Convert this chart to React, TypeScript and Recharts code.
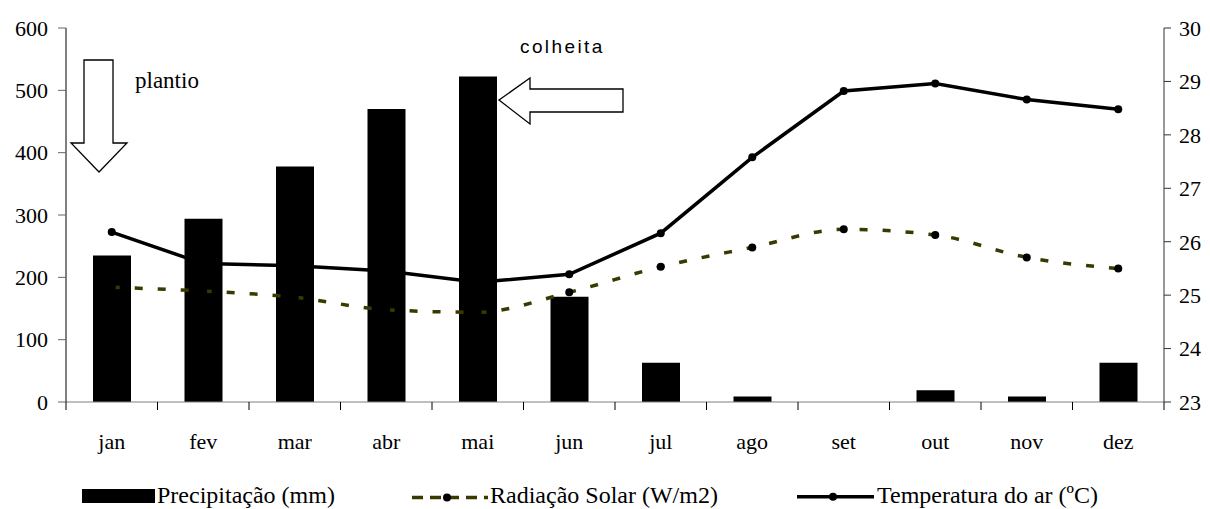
import React from 'react';
import { ComposedChart, Bar, Line, XAxis, YAxis, Legend } from 'recharts';

const months = ['jan', 'fev', 'mar', 'abr', 'mai', 'jun', 'jul', 'ago', 'set', 'out', 'nov', 'dez'];
const precipitacao = [235, 294, 378, 470, 522, 169, 63, 9, 0, 19, 9, 63];
const radiacao = [184, 178, 168, 148, 144, 176, 217, 248, 277, 268, 232, 214];
const temperatura = [26.18, 25.59, 25.55, 25.45, 25.24, 25.39, 26.16, 27.58, 28.82, 28.96, 28.66, 28.48];
const leftTicks = [0, 100, 200, 300, 400, 500, 600];
const rightTicks = [23, 24, 25, 26, 27, 28, 29, 30];
const seriesNames = ['Precipitação (mm)', 'Radiação Solar (W/m2)', 'Temperatura do ar (ºC)'];

const data = months.map((m, i) => ({
  mes: m,
  precipitacao: precipitacao[i],
  radiacao: radiacao[i],
  temperatura: temperatura[i],
}));

const W = 1194;
const H = 501;
const LEFT_W = 58;
const RIGHT_W = 38;
const PLOT_W = W - LEFT_W - RIGHT_W;
const BAND = PLOT_W / months.length;
const SERIF = 'Liberation Serif, Tinos, Times New Roman, DejaVu Serif, serif';
const OLIVE = '#3a3a00';

const X_TICK_SIZE = 8;
const X_TICK_MARGIN = 39;

const serifStyle = { fontFamily: SERIF };

const XTick = (props: any) => {
  const { x, y, payload, index } = props;
  const axisY = y - X_TICK_SIZE - X_TICK_MARGIN;
  const left = x - BAND / 2;
  const right = x + BAND / 2;
  return (
    <g>
      <line x1={left} x2={left} y1={axisY} y2={axisY + X_TICK_SIZE} stroke="#000" strokeWidth={1} />
      {index === months.length - 1 && (
        <line x1={right} x2={right} y1={axisY} y2={axisY + X_TICK_SIZE} stroke="#000" strokeWidth={1} />
      )}
      <text x={x} y={y} textAnchor="middle" style={serifStyle} fontSize={22} fill="#000">
        {payload.value}
      </text>
    </g>
  );
};

const LegendContent = () => (
  <svg width={W} height={30} style={{ display: 'block', overflow: 'visible' }}>
    <rect x={74} y={3} width={73} height={14} fill="#000" />
    <text x={149} y={17} style={serifStyle} fontSize={24} fill="#000">{seriesNames[0]}</text>
    <line x1={404} x2={480} y1={11.5} y2={11.5} stroke={OLIVE} strokeWidth={3.5} strokeDasharray="11 7" />
    <circle cx={439} cy={11.5} r={4} fill="#000" />
    <text x={482} y={17} style={serifStyle} fontSize={24} fill="#000">{seriesNames[1]}</text>
    <line x1={789} x2={866} y1={10.7} y2={10.7} stroke="#000" strokeWidth={3.5} />
    <circle cx={825} cy={10.7} r={4} fill="#000" />
    <text x={869} y={17} style={serifStyle} fontSize={24} fill="#000">{seriesNames[2]}</text>
  </svg>
);

const Annotations = () => (
  <svg
    width={W}
    height={H}
    style={{ position: 'absolute', left: 0, top: 0, pointerEvents: 'none', overflow: 'visible' }}
  >
    <polygon
      points="76,52 105,52 105,135 119,135 91,164 63,135 76,135"
      fill="#fff"
      stroke="#000"
      strokeWidth={1.3}
      strokeLinejoin="miter"
    />
    <text x={127} y={80} style={serifStyle} fontSize={23} fill="#000">plantio</text>
    <polygon
      points="491,92 522,70 522,81 615,81 615,104 522,104 522,116"
      fill="#fff"
      stroke="#000"
      strokeWidth={1.3}
    />
    <text
      x={512}
      y={45}
      style={{ fontFamily: 'Liberation Sans, Arial, sans-serif' }}
      fontSize={19}
      letterSpacing={2.4}
      fill="#000"
    >
      colheita
    </text>
  </svg>
);

export default function App() {
  return (
    <div style={{ position: 'relative', width: W, height: H, background: '#fff', fontFamily: SERIF }}>
      <ComposedChart
        width={W}
        height={H}
        data={data}
        margin={{ top: 20, right: 0, bottom: 47, left: 0 }}
        barSize={38}
        style={serifStyle}
      >
        <XAxis
          dataKey="mes"
          height={60}
          axisLine={{ stroke: '#808080', strokeWidth: 1.2 }}
          tickLine={false}
          tickSize={X_TICK_SIZE}
          tickMargin={X_TICK_MARGIN}
          tick={<XTick />}
          interval={0}
        />
        <YAxis
          yAxisId="left"
          orientation="left"
          width={LEFT_W}
          domain={[0, 600]}
          ticks={leftTicks}
          axisLine={{ stroke: '#000', strokeWidth: 1 }}
          tickLine={{ stroke: '#666', strokeWidth: 1 }}
          tickSize={8}
          tickMargin={10}
          tick={{ style: serifStyle, fontSize: 22, fill: '#000' }}
          interval={0}
        />
        <YAxis
          yAxisId="right"
          orientation="right"
          width={RIGHT_W}
          domain={[23, 30]}
          ticks={rightTicks}
          axisLine={{ stroke: '#333', strokeWidth: 1 }}
          tickLine={{ stroke: '#333', strokeWidth: 1 }}
          tickSize={7}
          tickMargin={8}
          tick={{ style: serifStyle, fontSize: 22, fill: '#000' }}
          interval={0}
        />
        <Legend
          verticalAlign="middle"
          align="center"
          layout="horizontal"
          content={<LegendContent />}
          wrapperStyle={{ top: 478, left: 0, width: W, height: 30 }}
        />
        <Bar
          yAxisId="left"
          dataKey="precipitacao"
          name={seriesNames[0]}
          fill="#000"
          isAnimationActive={false}
        />
        <Line
          yAxisId="left"
          type="monotone"
          dataKey="radiacao"
          name={seriesNames[1]}
          stroke={OLIVE}
          strokeWidth={3.5}
          strokeDasharray="8 15"
          dot={{ r: 4, fill: '#000', stroke: 'none' }}
          activeDot={false}
          isAnimationActive={false}
        />
        <Line
          yAxisId="right"
          type="linear"
          dataKey="temperatura"
          name={seriesNames[2]}
          stroke="#000"
          strokeWidth={3.5}
          dot={{ r: 4, fill: '#000', stroke: 'none' }}
          activeDot={false}
          isAnimationActive={false}
        />
      </ComposedChart>
      <Annotations />
    </div>
  );
}
